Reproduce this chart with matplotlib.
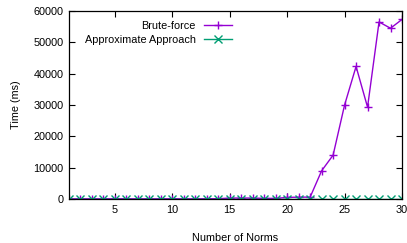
import matplotlib
matplotlib.use("Agg")
import matplotlib.pyplot as plt

# Datos
norms = list(range(1, 31))
brute_force = [60, 60, 60, 60, 80, 60, 60, 60, 60, 80, 60, 60, 80, 100, 300,
               300, 300, 200, 200, 500, 600, 600, 9000, 14000, 30000,
               42300, 29300, 56500, 54500, 57300]
approximate = [100] * 30

plt.rcParams['font.family'] = ['Liberation Sans', 'DejaVu Sans']

fig = plt.figure(figsize=(4.07, 2.43), dpi=100)
ax = fig.add_axes([69 / 407, 1 - 199 / 243, 333 / 407, 188 / 243])

ax.plot(norms, brute_force, color='#9400D3', marker='+', markersize=6,
        linewidth=1, label='Brute-force')
ax.plot(norms, approximate, color='#009E73', marker='x', markersize=5.5,
        linewidth=1, label='Approximate Approach')

ax.set_xlim(1, 30)
ax.set_ylim(0, 60000)
ax.set_xticks([5, 10, 15, 20, 25, 30])
ax.set_yticks(range(0, 60001, 10000))
ax.tick_params(direction='in', top=True, right=True, labelsize=7.8,
               length=4, width=0.8, pad=4)
for s in ax.spines.values():
    s.set_linewidth(0.9)

ax.set_xlabel('Number of Norms', fontsize=7.8, labelpad=13)
ax.set_ylabel('Time (ms)', fontsize=7.8, labelpad=9)

leg = ax.legend(loc='upper right', bbox_to_anchor=(0.52, 1.0), frameon=False,
                fontsize=7.8, markerfirst=False, handlelength=2.6,
                labelspacing=0.4)
for t in leg.get_texts():
    t.set_ha('right')

fig.savefig('out.png', dpi=100)
plt.close()
